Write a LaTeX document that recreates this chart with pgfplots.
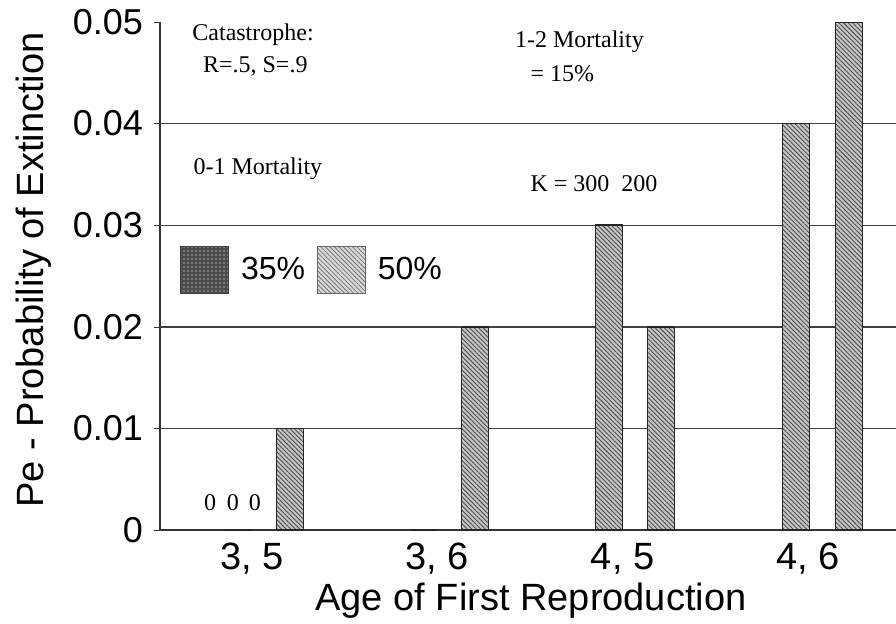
\documentclass[border=0pt]{standalone}
\usepackage{fontspec}
\setmainfont{Liberation Sans}
\newfontfamily\serif{Liberation Serif}
\usepackage{pgfplots}
\pgfplotsset{compat=1.18}
\usetikzlibrary{patterns,patterns.meta}

\pgfplotsset{
  hatched bar/.style={
    ybar, bar width=0.146, bar shift=0pt,
    draw=black!85, line width=0.8pt, fill=gray!45,
    postaction={pattern={Lines[angle=-45,distance=1.6pt,line width=0.45pt]}, pattern color=black!70},
  },
}
\tikzset{note/.style={font=\serif\fontsize{12}{14}\selectfont, anchor=west, inner sep=0pt}}

\begin{document}
\begin{tikzpicture}
\useasboundingbox (0,0) rectangle (448pt,311.5pt);
\begin{axis}[
  at={(80pt,46.5pt)}, anchor=south west,
  scale only axis, width=368pt, height=254pt,
  axis lines=left, axis line style={-, black!80, line width=0.9pt},
  xmin=0.5035, xmax=4.475, ymin=0, ymax=0.05,
  xtick={1,2,3,4},
  xticklabels={{3, 5},{3, 6},{4, 5},{4, 6}},
  xtick style={draw=none},
  xticklabel style={font=\fontsize{19}{21}\selectfont},
  ytick={0,0.05},
  extra y ticks={0.01,0.02,0.03,0.04},
  extra y tick style={ymajorgrids=true},
  grid style={black!75, line width=0.7pt},
  scaled y ticks=false,
  tick align=outside, major tick length=3pt,
  ytick style={black!80},
  yticklabel style={font=\fontsize{18}{20}\selectfont, xshift=-2pt,
    /pgf/number format/fixed, /pgf/number format/precision=2,
    /pgf/number format/assume math mode=true},
  xlabel={Age of First Reproduction},
  ylabel={Pe - Probability of Extinction},
  xlabel style={font=\fontsize{19}{21}\selectfont, at={(axis description cs:0.504,-0.14)}, anchor=center},
  ylabel style={font=\fontsize{19}{21}\selectfont, at={(axis description cs:-0.172,0.512)}, anchor=center},
  legend image code/.code={\draw[#1] (0pt,-11.75pt) rectangle (24pt,11.75pt);},
  legend style={draw=none, fill=none, at={(axis description cs:0.027,0.512)}, anchor=west,
    font=\fontsize{16}{18}\selectfont, inner sep=0pt, nodes={inner sep=0pt},
    /tikz/every odd column/.append style={column sep=6pt},
    /tikz/every even column/.append style={column sep=6pt}},
  legend columns=2,
]
\addlegendimage{draw=black!75, fill=black!70, postaction={pattern={Dots[distance=2pt,radius=0.45pt]}, pattern color=white!65!black}}
\addlegendentry{35\%}
\addlegendimage{draw=black!60, fill=gray!30, postaction={pattern={Lines[angle=-45,distance=1.6pt,line width=0.4pt]}, pattern color=black!55}}
\addlegendentry{50\%}

% K = 300
\addplot[hatched bar, forget plot] coordinates {(0.93,0) (1.93,0) (2.927,0.03) (3.936,0.04)};
% K = 200
\addplot[hatched bar, forget plot] coordinates {(1.205,0.01) (2.203,0.02) (3.207,0.02) (4.222,0.05)};

\node[note] at (axis description cs:0.0435,0.974) {Catastrophe:};
\node[note] at (axis description cs:0.058,0.913) {R=.5, S=.9};
\node[note] at (axis description cs:0.045,0.712) {0-1 Mortality};
\node[note] at (axis description cs:0.482,0.961) {1-2 Mortality};
\node[note] at (axis description cs:0.503,0.898) {= 15\%};
\node[note] at (axis description cs:0.503,0.681) {K = 300\enspace 200};
\node[note, anchor=center] at (axis description cs:0.068,0.053) {0};
\node[note, anchor=center] at (axis description cs:0.099,0.053) {0};
\node[note, anchor=center] at (axis description cs:0.129,0.053) {0};
\end{axis}
\end{tikzpicture}
\end{document}
